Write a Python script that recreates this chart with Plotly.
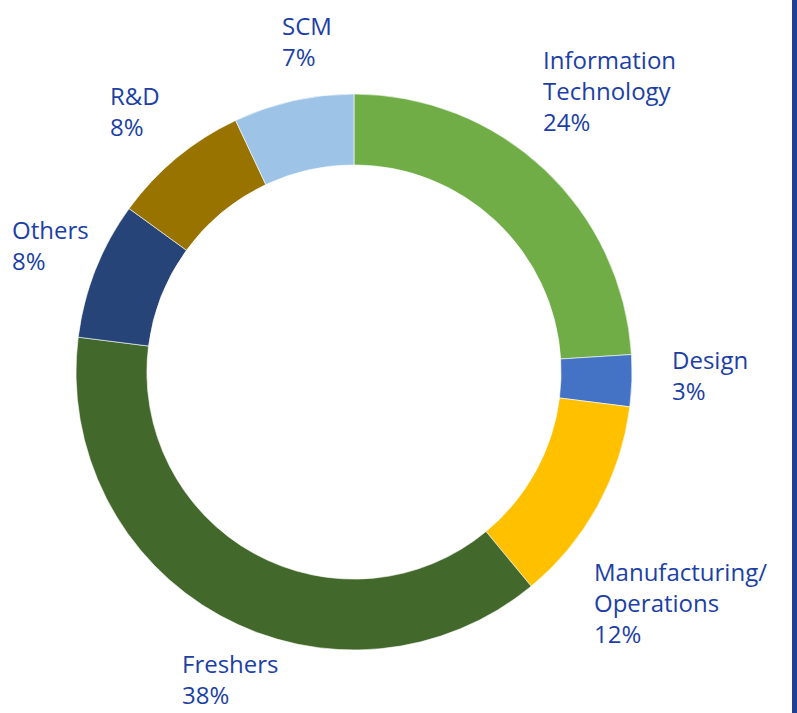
import plotly.graph_objects as go

categories = ["Information<br>Technology", "Design", "Manufacturing/<br>Operations",
              "Freshers", "Others", "R&D", "SCM"]
values = [24, 3, 12, 38, 8, 8, 7]
colors = ["#70AD47", "#4472C4", "#FFC000", "#43682B", "#264478", "#997300", "#9DC3E6"]

# label layout: left edge and vertical centre of each text block (pixels from top-left)
label_pos = [(541, 90), (670, 375), (592, 602), (180, 679), (10, 245), (108, 111), (280, 41)]

W, H = 797, 713
cx, cy, R = 354, 372, 278

fig = go.Figure(go.Pie(
    labels=categories,
    values=values,
    sort=False,
    direction="clockwise",
    rotation=0,
    hole=0.745,
    marker=dict(colors=colors, line=dict(color="white", width=0.6)),
    textinfo="none",
    hoverinfo="label+percent",
    showlegend=False,
    domain=dict(x=[(cx - R) / W, (cx + R) / W], y=[(H - cy - R) / H, (H - cy + R) / H]),
))

total = sum(values)
annotations = []
for lab, v, (px, py) in zip(categories, values, label_pos):
    annotations.append(dict(
        x=px / W, y=1 - py / H, xref="paper", yref="paper",
        xanchor="left", yanchor="middle", align="left",
        text=f"{lab}<br>{round(100 * v / total)}%",
        showarrow=False,
        font=dict(family="Open Sans", size=24, color="#1C3FA6"),
    ))

fig.update_layout(
    width=W, height=H,
    margin=dict(l=0, r=0, t=0, b=0),
    paper_bgcolor="white", plot_bgcolor="white",
    annotations=annotations,
    shapes=[dict(type="rect", xref="paper", yref="paper",
                 x0=792 / W, x1=1, y0=0, y1=1,
                 fillcolor="#233F94", line=dict(width=0))],
)

fig.write_html("out.html", config={"displayModeBar": False},
               post_script="document.body.style.margin='0';")
